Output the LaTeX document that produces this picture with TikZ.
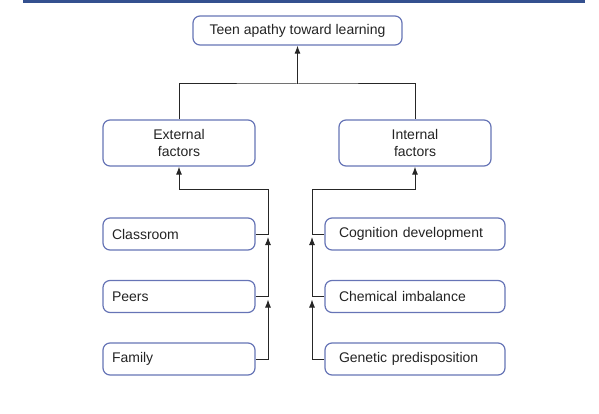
\documentclass[tikz,border=0pt]{standalone}
\usepackage{fontspec}
\setmainfont{Liberation Sans}
\usepackage{xcolor}
\usetikzlibrary{arrows.meta,positioning,calc}

\definecolor{barblue}{RGB}{52,80,143}
\definecolor{boxblue}{RGB}{102,116,182}
\definecolor{inkgray}{RGB}{35,35,35}

\tikzset{
    box/.style={draw=boxblue, line width=1.2pt, rounded corners=7pt, text=inkgray,
        font=\fontsize{14}{17.5}\selectfont, inner sep=0pt},
    leftbox/.style={box, minimum width=152pt, minimum height=32pt, inner xsep=9pt,
        text width=134pt, align=left},
    rightbox/.style={box, minimum width=180pt, minimum height=32pt, inner xsep=14pt,
        text width=152pt, align=left},
    link/.style={line width=1pt, black!85},
    arr/.style={link, -{Latex[length=8pt,width=6pt]}},
}

\begin{document}
\begin{tikzpicture}[x=1pt,y=-1pt]
    \useasboundingbox (0,0) rectangle (599,414);

    % Top bar
    \fill[barblue] (23,0) rectangle (585,3);

    % Main boxes
    \node[box, minimum width=209pt, minimum height=29pt] (apathy) at (297.5,30.5) {Teen apathy toward learning};
    \node[box, minimum width=152pt, minimum height=46pt, align=center] (ext) at (179,143) {External\\factors};
    \node[box, minimum width=152pt, minimum height=46pt, align=center] (int) at (415,143) {Internal\\factors};

    % External causes
    \node[leftbox] (class) at (179,234) {Classroom};
    \node[leftbox] (peers) at (179,296.5) {Peers};
    \node[leftbox] (family) at (179,359) {Family};

    % Internal causes
    \node[rightbox] (cogn) at (415,234) {Cognition development};
    \node[rightbox] (chem) at (415,296.5) {Chemical imbalance};
    \node[rightbox] (genet) at (415,359) {Genetic predisposition};

    % Bus points
    \coordinate (tj) at (297.5,84);
    \coordinate (lbus) at (268,189);
    \coordinate (rbus) at (312,189);

    % Top join
    \draw[link] (ext.north) |- (tj) -| (int.north);
    \draw[arr] (tj) -- (apathy.south);

    % Left bus
    \draw[arr, shorten >=3pt] (family.east) -| (peers.east -| lbus);
    \draw[arr, shorten >=3pt] (peers.east) -| (class.east -| lbus);
    \draw[arr] (class.east) -| (lbus) -| (ext.south);

    % Right bus
    \draw[arr, shorten >=3pt] (genet.west) -| (chem.west -| rbus);
    \draw[arr, shorten >=3pt] (chem.west) -| (cogn.west -| rbus);
    \draw[arr] (cogn.west) -| (rbus) -| (int.south);
\end{tikzpicture}
\end{document}
